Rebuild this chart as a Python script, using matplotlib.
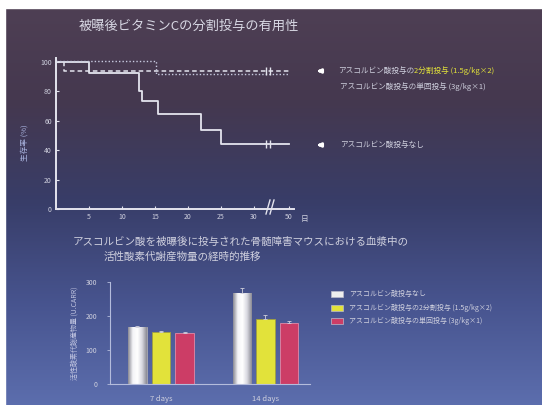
import numpy as np
import matplotlib.pyplot as plt
from matplotlib.colors import LinearSegmentedColormap
from matplotlib.patches import Rectangle
from matplotlib.lines import Line2D

plt.rcParams['font.family'] = ['Noto Sans CJK JP', 'DejaVu Sans']

W, H = 542, 405

# survival after irradiation (day, %)
days_none = [0, 5, 12.5, 13, 15.5, 22, 25, 50]
surv_none = [100, 92.5, 80, 73.5, 64.5, 53.5, 44, 44]
days_split = [0, 15.2, 50]
surv_split = [100.5, 92, 92]
days_single = [0, 1.2, 50]
surv_single = [100, 94, 94]
censor_day = 32
day_ticks = [5, 10, 15, 20, 25, 30, 50]
surv_ticks = [0, 20, 40, 60, 80, 100]

# plasma reactive oxygen metabolites (U.CARR)
groups = ['7 days', '14 days']
ros_none = [167, 267]
ros_split = [152, 190]
ros_single = [149, 180]
err_none = [4, 15]
err_split = [3, 12]
err_single = [4, 4]

lbl_none = 'アスコルビン酸投与なし'
lbl_split_a = 'アスコルビン酸投与の'
lbl_split_b = '2分割投与 (1.5g/kg×2)'
lbl_single = 'アスコルビン酸投与の単回投与 (3g/kg×1)'

LINE = '#e4e4ee'
TXT = '#cfd0de'
YEL = '#e2e23a'
RED = '#cc3d66'


def px(x, y):
    return x / W, 1 - y / H


def xpos(d):
    # axis is broken between 30 and 50 days
    return d if d <= 33 else 35.3 - (50 - d) * 0.5


fig = plt.figure(figsize=(W / 100, H / 100), dpi=100)

# slide background
bg = fig.add_axes([0, 0, 1, 1], zorder=-10)
stops = [(0.0, (0.31, 0.25, 0.33)), (0.25, (0.27, 0.22, 0.31)),
         (0.5, (0.22, 0.24, 0.41)), (0.75, (0.28, 0.33, 0.56)),
         (1.0, (0.36, 0.43, 0.68))]
cm_bg = LinearSegmentedColormap.from_list('bg', stops)
bg.imshow(np.linspace(0, 1, 256).reshape(-1, 1), cmap=cm_bg, aspect='auto',
          extent=[0, W, H, 0])
bg.add_patch(Rectangle((0, 0), W, 8, color='white'))
bg.add_patch(Rectangle((0, 0), 5, H, color='white'))
bg.set_xlim(0, W)
bg.set_ylim(H, 0)
bg.axis('off')

# ---- survival plot ----
ax = fig.add_axes([56 / W, 1 - 209 / H, 237.6 / W, 151.4 / H])
ax.patch.set_alpha(0)
ax.step([xpos(d) for d in days_none], surv_none, where='post', color=LINE, lw=1.3)
ax.step([xpos(d) for d in days_single], surv_single, where='post', color=LINE,
        lw=1.1, ls=(0, (3, 2)))
ax.step([xpos(d) for d in days_split], surv_split, where='post', color='#c8cae0',
        lw=1.0, ls=(0, (1, 1.5)))
for y in [surv_none[-1], surv_single[-1]]:
    ax.plot([censor_day - 0.25, censor_day + 0.35], [y, y], ls='none', marker='|',
            ms=6, mew=1.0, color=LINE)
ax.set_xlim(0, 36)
ax.set_ylim(0, 103)
ax.set_xticks([xpos(d) for d in day_ticks])
ax.set_xticklabels([str(d) for d in day_ticks])
ax.set_yticks(surv_ticks)
for s in ['top', 'right']:
    ax.spines[s].set_visible(False)
for s in ['left', 'bottom']:
    ax.spines[s].set_color(LINE)
    ax.spines[s].set_linewidth(1.4)
ax.tick_params(direction='in', length=2, width=0.8, color=LINE, labelcolor=TXT,
               labelsize=5, pad=3)

# axis break marks
for dx in (0, 4):
    fig.add_artist(Line2D([(266 + dx) / W, (270 + dx) / W], [1 - 214 / H, 1 - 200 / H],
                          color=LINE, lw=1.0))
fig.text(*px(304, 219), '日', color=TXT, fontsize=5.5, ha='center', va='center')
fig.text(*px(25, 143), '生存率 (%)', color='#aab4e0', fontsize=5.5, rotation=90,
         ha='center', va='center')

fig.text(*px(79, 26), '被曝後ビタミンCの分割投与の有用性', color='#d8d8e4',
         fontsize=9.5, ha='left', va='center')

# right side labels with arrows
for y in (71, 145):
    fig.add_artist(plt.Annotation('', xy=px(314, y), xytext=px(325, y),
                                  xycoords='figure fraction', textcoords='figure fraction',
                                  arrowprops=dict(arrowstyle='-|>', color='white', lw=2,
                                                  mutation_scale=5)))
t1 = fig.text(*px(338, 71), lbl_split_a, color=TXT, fontsize=5.5, va='center')
fig.canvas.draw()
bb = t1.get_window_extent()
fig.text(bb.x1 / W, 1 - 71 / H, lbl_split_b, color=YEL, fontsize=5.5, va='center')
fig.text(*px(340, 87), lbl_single, color=TXT, fontsize=5.5, va='center')
fig.text(*px(340, 145), lbl_none, color=TXT, fontsize=5.5, va='center')

# ---- bar chart ----
fig.text(*px(73, 242), 'アスコルビン酸を被曝後に投与された骨髄障害マウスにおける血漿中の',
         color=TXT, fontsize=7.6, va='center')
fig.text(*px(104, 257), '活性酸素代謝産物量の経時的推移', color=TXT, fontsize=7.6,
         va='center')

bx = fig.add_axes([110 / W, 1 - 384 / H, 200 / W, 102 / H])
bx.patch.set_alpha(0)
x = np.arange(len(groups))
off, bw = 0.225, 0.177
grad = LinearSegmentedColormap.from_list('wb', ['#8a8a94', '#f4f4f8', '#ffffff',
                                                '#d8d8e0', '#8a8a94'])
bars_none = bx.bar(x - off, ros_none, bw, color='#eeeeee', edgecolor='#a0a0aa',
                   lw=0.6, zorder=2)
for b in bars_none:
    im = bx.imshow(np.linspace(0, 1, 64).reshape(1, -1), cmap=grad, aspect='auto',
                   extent=[b.get_x(), b.get_x() + b.get_width(), 0, b.get_height()],
                   zorder=2.5)
    im.set_clip_path(b)
bx.bar(x, ros_split, bw, color=YEL, edgecolor='#a0a040', lw=0.6, zorder=2)
bx.bar(x + off, ros_single, bw, color=RED, edgecolor='#e08aa8', lw=0.6, zorder=2)
for xs, v, e in [(x - off, ros_none, err_none), (x, ros_split, err_split),
                 (x + off, ros_single, err_single)]:
    bx.errorbar(xs, v, yerr=[np.zeros(len(e)), e], fmt='none', ecolor='#d0d0dc',
                elinewidth=0.6, capsize=1.5, capthick=0.6, zorder=3)
bx.set_xlim(-0.488, 1.426)
bx.set_ylim(0, 300)
bx.set_yticks([0, 100, 200, 300])
bx.set_xticks(x)
bx.set_xticklabels(groups)
for s in ['top', 'right']:
    bx.spines[s].set_visible(False)
for s in ['left', 'bottom']:
    bx.spines[s].set_color('#b4bcdc')
    bx.spines[s].set_linewidth(0.8)
bx.tick_params(axis='y', length=2, width=0.6, color='#b4bcdc', labelcolor=TXT,
               labelsize=5, pad=7)
bx.tick_params(axis='x', length=0, labelcolor=TXT, labelsize=5.5, pad=8)
fig.text(*px(75, 333), '活性酸素代謝産物量 (U.CARR)', color='#c0c4e0', fontsize=5,
         rotation=90, ha='center', va='center')

# bar legend
leg = [('#eeeeee', lbl_none), (YEL, lbl_split_a + lbl_split_b), (RED, lbl_single)]
for i, (c, lab) in enumerate(leg):
    y = 294 + i * 13.5
    fig.add_artist(Rectangle(px(331, y + 3), 12 / W, 6 / H, facecolor=c,
                             edgecolor='#bbbbcc', lw=0.5))
    fig.text(*px(349, y), lab, color=TXT, fontsize=5, va='center')

fig.savefig('out.png', dpi=100)
